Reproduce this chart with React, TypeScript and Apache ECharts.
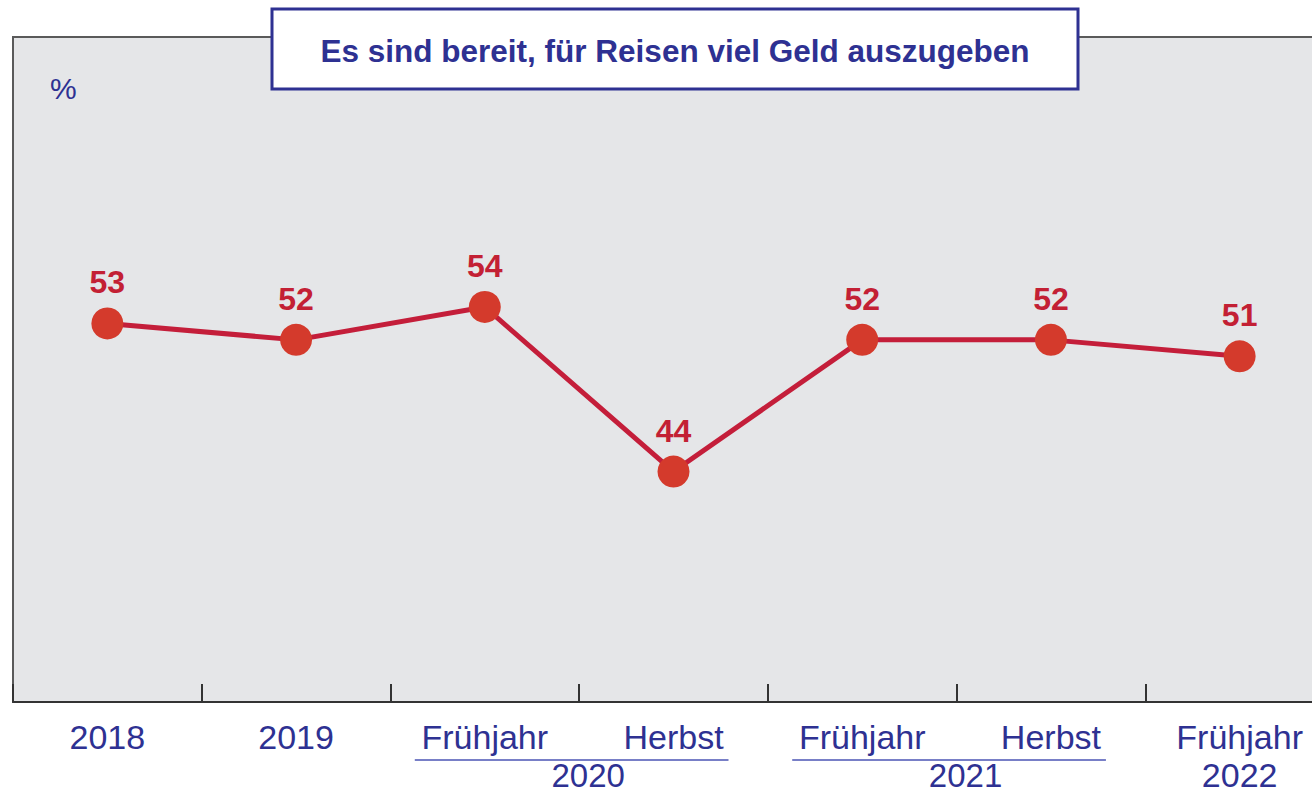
import React, { useEffect, useRef } from "react";
import * as echarts from "echarts";

const categoryKeys = ["2018", "2019", "Frühjahr 2020", "Herbst 2020", "Frühjahr 2021", "Herbst 2021", "Frühjahr 2022"];
const tickLabels = ["2018", "2019", "Frühjahr", "Herbst", "Frühjahr", "Herbst", "Frühjahr\n2022"];
const values = [53, 52, 54, 44, 52, 52, 51];
const yearGroups = [
  { label: "2020", from: 2, to: 3 },
  { label: "2021", from: 4, to: 5 },
];
const titleText = "Es sind bereit, für Reisen viel Geld auszugeben";
const unitText = "%";

const BLUE = "#2e3192";
const FONT = "Liberation Sans, Arial, sans-serif";

export default function App() {
  const ref = useRef<HTMLDivElement>(null);
  useEffect(() => {
    const chart = echarts.init(ref.current!, null, { renderer: "svg" });
    const baseGraphics: any[] = [
      {
        type: "rect",
        shape: { x: 272, y: 9, width: 806, height: 80 },
        style: { fill: "#ffffff", stroke: BLUE, lineWidth: 3 },
        z: 10,
      },
      {
        type: "text",
        x: 675,
        y: 51,
        style: {
          text: titleText,
          fontSize: 31.5,
          fontWeight: "bold",
          fontFamily: FONT,
          fill: BLUE,
          align: "center",
          verticalAlign: "middle",
        },
        z: 11,
      },
      {
        type: "text",
        x: 50,
        y: 88,
        style: {
          text: unitText,
          fontSize: 30,
          fontFamily: FONT,
          fill: BLUE,
          align: "left",
          verticalAlign: "middle",
        },
        z: 11,
      },
    ];
    chart.setOption({
      animation: false,
      grid: {
        left: 13,
        right: 0,
        top: 37,
        bottom: 90,
        show: true,
        backgroundColor: "#e5e6e8",
        borderColor: "#5a5a5a",
        borderWidth: 2,
      },
      xAxis: {
        type: "category",
        data: categoryKeys,
        boundaryGap: true,
        axisLine: { show: true, lineStyle: { color: "#333333", width: 2 } },
        axisTick: { show: true, inside: true, length: 18, interval: 0, lineStyle: { color: "#333333", width: 2 } },
        axisLabel: {
          interval: 0,
          margin: 16,
          fontSize: 34,
          lineHeight: 38,
          fontFamily: FONT,
          color: BLUE,
          formatter: (_v: string, i: number) => tickLabels[i],
        },
        splitLine: { show: false },
      },
      yAxis: {
        type: "value",
        min: 30,
        max: 70.4,
        show: false,
        splitLine: { show: false },
      },
      series: [
        {
          type: "line",
          data: values,
          symbol: "circle",
          symbolSize: 32,
          lineStyle: { color: "#c41e3a", width: 5 },
          itemStyle: { color: "#d43a2c", borderWidth: 0 },
          label: {
            show: true,
            position: "top",
            distance: 9,
            fontSize: 32,
            fontWeight: "bold",
            fontFamily: FONT,
            color: "#c32034",
          },
          z: 5,
        },
      ],
      graphic: baseGraphics,
    });

    const extra: any[] = [];
    yearGroups.forEach((g) => {
      const x1 = chart.convertToPixel({ xAxisIndex: 0 }, g.from) as number;
      const x2 = chart.convertToPixel({ xAxisIndex: 0 }, g.to) as number;
      extra.push({
        type: "line",
        shape: { x1: x1 - 70, y1: 760, x2: x2 + 55, y2: 760 },
        style: { stroke: "#4b55b5", lineWidth: 1.5 },
      });
      extra.push({
        type: "text",
        x: (x1 + x2) / 2 + 9,
        y: 775,
        style: {
          text: g.label,
          fontSize: 33,
          fontFamily: FONT,
          fill: BLUE,
          align: "center",
          verticalAlign: "middle",
        },
      });
    });
    chart.setOption({ graphic: [...baseGraphics, ...extra] });

    return () => chart.dispose();
  }, []);
  return (
    <div
      style={{ position: "fixed", left: 0, top: 0, width: 1312, height: 794, overflow: "hidden", background: "#ffffff" }}
    >
      <div ref={ref} style={{ position: "absolute", left: 0, top: 0, width: 1334, height: 794 }} />
    </div>
  );
}
